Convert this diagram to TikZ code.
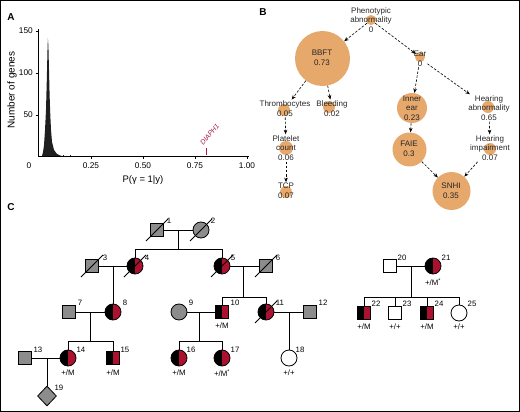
\documentclass[tikz,border=0pt]{standalone}
\usepackage{fontspec}
\setmainfont{Liberation Sans}
\usetikzlibrary{arrows.meta,shapes.geometric}
\definecolor{nodeor}{RGB}{230,168,107}
\definecolor{pedred}{RGB}{172,18,48}
\definecolor{pedgrey}{RGB}{140,140,140}
\definecolor{diared}{RGB}{168,28,68}
\newcommand\pedslash[1]{\draw[line width=0.8pt] (#1.center) ++(-11,11) -- ++(22,-22);}
\begin{document}
\begin{tikzpicture}[x=1pt,y=-1pt,
  panellab/.style={font=\fontsize{10}{12}\selectfont\bfseries, inner sep=0},
  ticklab/.style={font=\fontsize{8.3}{9}\selectfont, inner sep=0},
  axtitle/.style={font=\fontsize{9.5}{11}\selectfont, inner sep=0},
  hpocirc/.style={circle, fill=nodeor, inner sep=0},
  hpotext/.style={font=\fontsize{8}{9.6}\selectfont, align=center, text=black!85, inner sep=1pt},
  hpoarrow/.style={dash pattern=on 2.5pt off 1.6pt, line width=0.6pt, -{Stealth[length=4.5pt,width=3.6pt]}},
  pedsq/.style={draw, rectangle, line width=0.8pt, minimum size=13.5pt, inner sep=0},
  pedci/.style={draw, circle, line width=0.8pt, minimum size=16pt, inner sep=0},
  peddia/.style={draw, diamond, line width=0.8pt, minimum width=19pt, minimum height=20pt, inner sep=0},
  halfaff/.style={path picture={\fill[black] (path picture bounding box.south west) rectangle (path picture bounding box.north);
     \fill[pedred] (path picture bounding box.south) rectangle (path picture bounding box.north east);}},
  numlab/.style={font=\fontsize{7.8}{9}\selectfont, inner sep=0},
  genolab/.style={font=\fontsize{7.8}{9}\selectfont, inner sep=0},
  pedline/.style={line width=0.8pt}
]
\useasboundingbox (0,0) rectangle (520,412);
\draw[line width=1.2pt] (0.6,0.6) rectangle (519.4,411.4);

% ---------------- Panel A ----------------
\node[panellab] (labA) at (11,17) {A};
\fill[black!88] (42,156) -- (43,152) -- (44,145) -- (45,130) -- (46,110) -- (46.8,80) -- (47.5,50)
  -- (47.9,38) -- (48.4,46) -- (49,70) -- (49.6,95) -- (50.3,115) -- (51,130) -- (52,142)
  -- (54,150) -- (57,154) -- (60,155.5) -- (62,156) -- cycle;
\fill[black!88] (63,154.5) rectangle (63.8,156);
\fill[black!88] (70,155.2) rectangle (70.6,156);
\draw[line width=0.8pt] (38,29) -- (38,156.4) -- (249,156.4);
\foreach \yy/\lab in {31/150,73/100,115/50}{
  \draw[line width=0.8pt] (35.5,\yy) -- (38,\yy);
  \node[ticklab, anchor=east] at (33,\yy) {\lab};
}
\foreach \xx/\lab in {91/0.25,143/0.50,195/0.75,247/1.00}{
  \draw[line width=0.8pt] (\xx,156) -- (\xx,158.5);
  \node[ticklab] at (\xx,166) {\lab};
}
\node[ticklab] at (29,166) {0};
\node[axtitle] (xtitle) at (143,180) {P(γ = 1|y)};
\node[axtitle, font=\fontsize{10}{12}\selectfont, rotate=90] (ytitle) at (12,90) {Number of genes};
\draw[diared, line width=0.9pt] (206,148) -- (206,155);
\node[font=\fontsize{7}{8}\selectfont\itshape, text=diared, rotate=50, anchor=south west, inner sep=0] (diaph) at (203.5,146) {DIAPH1};

% ---------------- Panel B ----------------
\node[panellab] (labB) at (263,12) {B};
\node[hpocirc, minimum size=10pt] (cPA) at (371,20) {};
\node[hpocirc, minimum size=55pt] (cBBFT) at (322.5,58.5) {};
\node[hpocirc, minimum size=10pt] (cEar) at (420,57) {};
\node[hpocirc, minimum size=12pt] (cThromb) at (284,110) {};
\node[hpocirc, minimum size=12pt] (cBleed) at (329,107) {};
\node[hpocirc, minimum size=14pt] (cPlat) at (286,148) {};
\node[hpocirc, minimum size=12pt] (cTCP) at (286,192) {};
\node[hpocirc, minimum size=30pt] (cInner) at (412,108) {};
\node[hpocirc, minimum size=34pt] (cFAIE) at (409.5,149.5) {};
\node[hpocirc, minimum size=12pt] (cHearAb) at (488,107) {};
\node[hpocirc, minimum size=12pt] (cHearImp) at (490,149) {};
\node[hpocirc, minimum size=38pt] (cSNHI) at (451.5,191) {};

\node[hpotext] (tPA) at (371,20) {Phenotypic\\abnormality\\0};
\node[hpotext] (tBBFT) at (322,58) {BBFT\\0.73};
\node[hpotext] (tEar) at (420,58.5) {Ear\\0};
\node[hpotext] (tThromb) at (285,108.5) {Thrombocytes\\0.05};
\node[hpotext] (tBleed) at (332,108.5) {Bleeding\\0.02};
\node[hpotext] (tPlat) at (286,148) {Platelet\\count\\0.06};
\node[hpotext] (tTCP) at (286,191) {TCP\\0.07};
\node[hpotext] (tInner) at (412,108) {Inner\\ear\\0.23};
\node[hpotext] (tFAIE) at (409,149) {FAIE\\0.3};
\node[hpotext] (tHearAb) at (489,108) {Hearing\\abnormality\\0.65};
\node[hpotext] (tHearImp) at (490,148) {Hearing\\impairment\\0.07};
\node[hpotext] (tSNHI) at (451,191) {SNHI\\0.35};

\draw[hpoarrow] (cPA) -- (cBBFT);
\draw[hpoarrow] (cPA) -- (cEar);
\draw[hpoarrow] (cBBFT) -- (tThromb);
\draw[hpoarrow] (cBBFT) -- (tBleed);
\draw[hpoarrow] (tThromb) -- (tPlat);
\draw[hpoarrow] (tPlat) -- (tTCP);
\draw[hpoarrow] (tEar) -- (cInner);
\draw[hpoarrow] (tEar) -- (tHearAb);
\draw[hpoarrow] (cInner) -- (cFAIE);
\draw[hpoarrow] (tHearAb) -- (tHearImp);
\draw[hpoarrow] (cFAIE) -- (cSNHI);
\draw[hpoarrow] (tHearImp) -- (cSNHI);

% ---------------- Panel C ----------------
\node[panellab] (labC) at (11,207) {C};
% generation 1
\node[pedsq, fill=pedgrey] (p1) at (157,230) {};
\node[pedci, fill=pedgrey] (p2) at (201,230) {};
% generation 2
\node[pedsq, fill=pedgrey] (p3) at (92,266) {};
\node[pedci, halfaff] (p4) at (135,266) {};
\node[pedci, halfaff] (p5) at (222,266) {};
\node[pedsq, fill=pedgrey] (p6) at (266,266) {};
% generation 3
\node[pedsq, fill=pedgrey] (p7) at (69,312) {};
\node[pedci, halfaff] (p8) at (113,312) {};
\node[pedci, fill=pedgrey] (p9) at (179,312) {};
\node[pedsq, halfaff] (p10) at (222,312) {};
\node[pedci, halfaff] (p11) at (266,312) {};
\node[pedsq, fill=pedgrey] (p12) at (310,312) {};
% generation 4
\node[pedsq, fill=pedgrey] (p13) at (25,358) {};
\node[pedci, halfaff] (p14) at (68,358) {};
\node[pedsq, halfaff] (p15) at (113,358) {};
\node[pedci, halfaff] (p16) at (179,358) {};
\node[pedci, halfaff] (p17) at (222,358) {};
\node[pedci, fill=white] (p18) at (289,358) {};
\node[peddia, fill=pedgrey] (p19) at (47,396) {};
% second family
\node[pedsq, fill=white] (p20) at (390,266) {};
\node[pedci, halfaff] (p21) at (433,266) {};
\node[pedsq, halfaff] (p22) at (364,313) {};
\node[pedsq, fill=white] (p23) at (395,313) {};
\node[pedsq, halfaff] (p24) at (427,313) {};
\node[pedci, fill=white] (p25) at (459,313) {};

% deceased
\pedslash{p1}\pedslash{p2}\pedslash{p3}\pedslash{p4}\pedslash{p5}\pedslash{p6}\pedslash{p11}

% connectors
\coordinate (m12) at (178,230);
\coordinate (s12) at (178,249);
\draw[pedline] (p1) -- (p2);
\draw[pedline] (m12) -- (s12);
\draw[pedline] (p4.north) -- (p4 |- s12) -- (p5 |- s12) -- (p5.north);

\coordinate (m34) at (113,266);
\draw[pedline] (p3) -- (p4);
\draw[pedline] (m34) -- (p8.north);

\coordinate (m56) at (243,266);
\coordinate (s56) at (243,297);
\draw[pedline] (p5) -- (p6);
\draw[pedline] (m56) -- (s56);
\draw[pedline] (p10.north) -- (p10 |- s56) -- (p11 |- s56) -- (p11.north);

\coordinate (m78) at (90,312);
\coordinate (s78) at (90,341);
\draw[pedline] (p7) -- (p8);
\draw[pedline] (m78) -- (s78);
\draw[pedline] (p14.north) -- (p14 |- s78) -- (p15 |- s78) -- (p15.north);

\coordinate (m910) at (199,312);
\coordinate (s910) at (199,341);
\draw[pedline] (p9) -- (p10);
\draw[pedline] (m910) -- (s910);
\draw[pedline] (p16.north) -- (p16 |- s910) -- (p17 |- s910) -- (p17.north);

\coordinate (m1112) at (289,312);
\draw[pedline] (p11) -- (p12);
\draw[pedline] (m1112) -- (p18.north);

\coordinate (m1314) at (47,358);
\draw[pedline] (p13) -- (p14);
\draw[pedline] (m1314) -- (p19.north);

\coordinate (m2021) at (411,266);
\coordinate (s2021) at (411,297);
\draw[pedline] (p20) -- (p21);
\draw[pedline] (m2021) -- (s2021);
\draw[pedline] (p22.north) -- (p22 |- s2021) -- (p25 |- s2021) -- (p25.north);
\draw[pedline] (p23 |- s2021) -- (p23.north);
\draw[pedline] (p24 |- s2021) -- (p24.north);

% numbers
\foreach \nm/\xx/\yy in {1/169/221,2/213/221,3/105/258,4/147/258,5/233/258,6/278/258,
  7/80/303,8/125/303,9/191/303,10/235/303,11/280/303,12/323/303,
  13/38/350,14/81/350,15/125/350,16/191/350,17/235/350,18/300/350,19/59/388,
  20/402/258,21/446/258,22/376/304,23/407/304,24/439/304,25/472/304}{
  \node[numlab] (n\nm) at (\xx,\yy) {\nm};
}
% genotypes
\node[genolab] (g10) at (222,326) {+/M};
\node[genolab] (g14) at (68,373) {+/M};
\node[genolab] (g15) at (113,373) {+/M};
\node[genolab] (g16) at (179,373) {+/M};
\node[genolab] (g17) at (222,373) {+/M\textsuperscript{*}};
\node[genolab] (g18) at (289,373) {+/+};
\node[genolab] (g21) at (433,282) {+/M\textsuperscript{*}};
\node[genolab] (g22) at (364,327) {+/M};
\node[genolab] (g23) at (395,327) {+/+};
\node[genolab] (g24) at (427,327) {+/M};
\node[genolab] (g25) at (459,327) {+/+};
\end{tikzpicture}
\end{document}
